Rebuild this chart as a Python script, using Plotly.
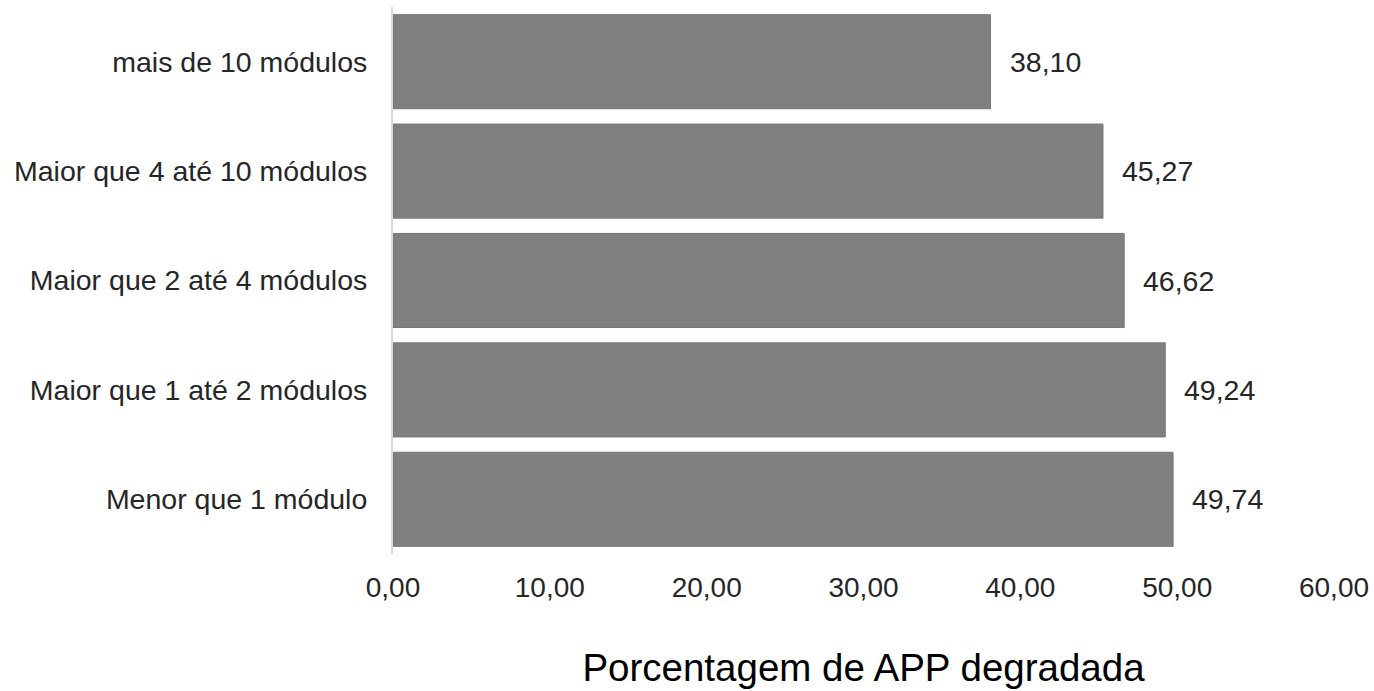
import plotly.graph_objects as go

categories = ["Menor que 1 módulo", "Maior que 1 até 2 módulos", "Maior que 2 até 4 módulos",
              "Maior que 4 até 10 módulos", "mais de 10 módulos"]
values = [49.74, 49.24, 46.62, 45.27, 38.10]
x_ticks = [0, 10, 20, 30, 40, 50, 60]
x_title = "Porcentagem de APP degradada"

FONT = "Arial, Liberation Sans, sans-serif"

fig = go.Figure()
fig.add_trace(go.Bar(
    x=values, y=categories, orientation="h",
    marker=dict(color="#808080", line=dict(color="#767676", width=1)),
    hoverinfo="skip",
))

for v, c in zip(values, categories):
    fig.add_annotation(
        x=v, y=c, xref="x", yref="y",
        text=f"{v:.2f}".replace(".", ","),
        showarrow=False, xanchor="left", yanchor="middle", xshift=17,
        font=dict(family=FONT, size=28.5, color="#262626"),
    )

fig.update_layout(
    width=1374, height=691,
    margin=dict(l=393, r=40, t=7, b=137, autoexpand=False),
    paper_bgcolor="white", plot_bgcolor="white",
    bargap=0.14,
    showlegend=False,
    separators=",.",
    font=dict(family=FONT, size=28, color="#262626"),
)
fig.update_xaxes(
    range=[0, 60], tickvals=x_ticks, tickformat=".2f",
    showgrid=False, zeroline=False, showline=False,
    ticks="", ticklabelstandoff=14,
    tickfont=dict(family=FONT, size=28, color="#262626"),
    title=dict(text=x_title, font=dict(family=FONT, size=38.5, color="black"), standoff=52),
)
fig.update_yaxes(
    categoryorder="array", categoryarray=categories,
    showgrid=False, zeroline=False,
    showline=True, linecolor="#d9d9d9", linewidth=2,
    ticks="", ticklabelstandoff=18,
    tickfont=dict(family=FONT, size=28.5, color="#262626"),
)

fig.write_html(
    "out.html",
    config={"displayModeBar": False},
    post_script="document.body.style.margin='0';document.body.style.overflow='hidden';",
)
